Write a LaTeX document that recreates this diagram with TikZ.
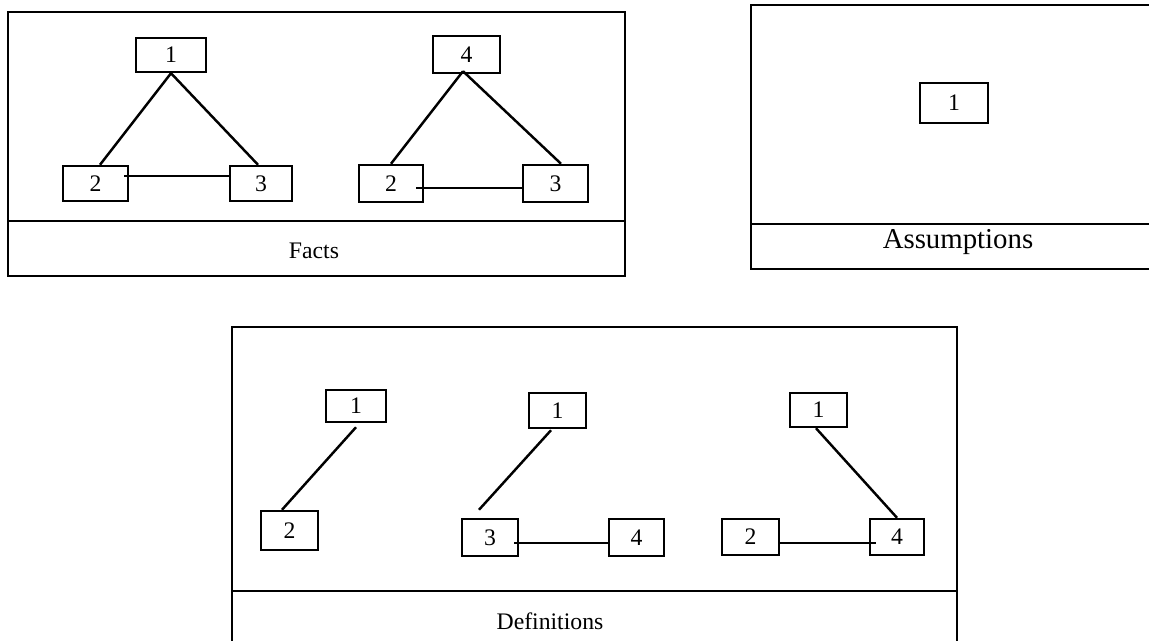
\documentclass[tikz,border=0pt]{standalone}
\usepackage{fontspec}
\setmainfont{Liberation Serif}
\usetikzlibrary{calc}

\tikzset{
  panel/.style={draw, line width=1.5pt},
  numbox/.style={draw, line width=1.4pt, inner sep=0pt,
    font=\fontsize{13.5}{15}\selectfont},
  wh/.style 2 args={minimum width=#1*0.02cm, minimum height=#2*0.02cm},
  link/.style={line width=1.4pt},
  caption/.style={inner sep=0pt, anchor=base, font=\fontsize{13.5}{15}\selectfont},
  bigcaption/.style={inner sep=0pt, anchor=base, font=\fontsize{16.4}{19}\selectfont}
}

\begin{document}
\begin{tikzpicture}[x=0.02cm, y=-0.02cm]
  \useasboundingbox (0,0) rectangle (1149,641);
  \clip (0,0) rectangle (1149,641);

  % ---- Facts panel ----
  \draw[panel] (8,12) rectangle (625,276);
  \draw[panel] (8,221) -- (625,221);
  \node[caption] (facts) at (314,259) {Facts};

  \node[numbox, wh={70}{34}] (F1) at (171,55) {1};
  \node[numbox, wh={65}{35}] (F2) at (95.5,183.5) {2};
  \node[numbox, wh={62}{35}] (F3) at (261,183.5) {3};
  \draw[link] (F1.south) -- ($(F2.north)+(4.5,0)$);
  \draw[link] (F1.south) -- ($(F3.north)+(-3,0)$);
  \draw[link] ($(F2.east)+(-5,-7.5)$) -- ($(F3.west)+(0,-7.5)$);

  \node[numbox, wh={67}{37}] (G4) at (466.5,54.5) {4};
  \node[numbox, wh={64}{37}] (G2) at (391,183.5) {2};
  \node[numbox, wh={65}{37}] (G3) at (555.5,183.5) {3};
  \draw[link] ($(G4.south)+(-3.5,-3)$) -- (G2.north);
  \draw[link] ($(G4.south)+(-3.5,-3)$) -- ($(G3.north)+(5.5,0)$);
  \draw[link] ($(G2.east)+(-8,4.5)$) -- ($(G3.west)+(0,4.5)$);

  % ---- Assumptions panel ----
  \draw[panel] (1160,5) -- (751,5) -- (751,269) -- (1160,269);
  \draw[panel] (751,224) -- (1160,224);
  \node[bigcaption] (assumptions) at (958,249) {Assumptions};
  \node[numbox, wh={68}{40}] (A1) at (954,103) {1};

  % ---- Definitions panel ----
  \draw[panel] (232,645) -- (232,327) -- (957,327) -- (957,645);
  \draw[panel] (232,591) -- (957,591);
  \node[caption] (definitions) at (550,629) {Definitions};

  \node[numbox, wh={60}{32}] (D1a) at (356,406) {1};
  \node[numbox, wh={57}{39}] (D2a) at (289.5,530.5) {2};
  \draw[link] ($(D1a.south)+(0,4)$) -- ($(D2a.north)+(-7.5,0)$);

  \node[numbox, wh={57}{35}] (D1b) at (557.5,410.5) {1};
  \node[numbox, wh={56}{37}] (D3b) at (490,537.5) {3};
  \node[numbox, wh={55}{37}] (D4b) at (636.5,537.5) {4};
  \draw[link] ($(D1b.south)+(-6.5,1)$) -- ($(D3b.north)+(-11,-8)$);
  \draw[link] ($(D3b.east)+(-5,5.5)$) -- ($(D4b.west)+(0,5.5)$);

  \node[numbox, wh={57}{34}] (D1c) at (818.5,410) {1};
  \node[numbox, wh={57}{36}] (D2c) at (750.5,537) {2};
  \node[numbox, wh={54}{36}] (D4c) at (897,537) {4};
  \draw[link] ($(D1c.south)+(-2.5,0)$) -- (D4c.north);
  \draw[link] ($(D2c.east)+(0,6)$) -- ($(D4c.west)+(7,6)$);
\end{tikzpicture}
\end{document}
